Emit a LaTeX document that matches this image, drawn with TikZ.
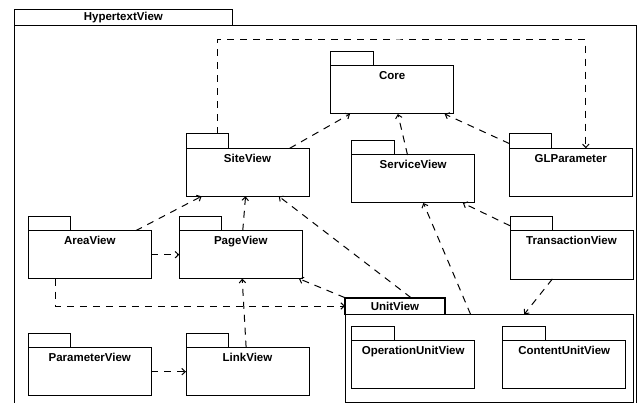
\documentclass[tikz,border=0pt]{standalone}
\usepackage{fontspec}
\setmainfont{Liberation Sans}
\usetikzlibrary{arrows.meta}

\begin{document}
\begin{tikzpicture}[x=1pt, y=-1pt,
		pkg/.style={draw, line width=1pt, anchor=north west, outer sep=0pt, minimum width=123pt, inner xsep=0pt, inner ysep=5.5pt, text height=8.3pt, text depth=28.7pt, font=\fontsize{11.5}{13}\selectfont\bfseries},
		tab/.style={draw, line width=1pt, anchor=south west, outer sep=0pt, inner sep=0pt, minimum width=42.5pt, minimum height=14.5pt, font=\fontsize{11.5}{13}\selectfont\bfseries},
		dep/.style={line width=1pt, dash pattern=on 7pt off 6pt, -{Straight Barb[length=3.5pt,width=6.5pt]}}]
		\useasboundingbox (0,0) rectangle (642,403);
		\draw[line width=1pt] (14.7,410) -- (14.7,25.5) -- (636,25.5) -- (636,410);
		\node[tab, minimum width=217.3pt, minimum height=16.2pt] (hypertab) at (14.7,25.5) {HypertextView};
		\foreach \name/\x/\y/\txt in {core/330.7/66/Core, service/351.7/155/ServiceView, glparam/509.3/148.3/GLParameter, site/186/148.3/SiteView, area/28.3/230.7/AreaView, page/179.3/230.7/PageView, param/28.3/347.7/ParameterView, link/186/347.7/LinkView, trans/510/231/TransactionView, opunit/351.7/340.7/OperationUnitView, contunit/502.7/340.7/ContentUnitView}
		{
			\node[pkg] (\name) at (\x,\y) {\txt};
			\node[tab] (\name tab) at (\name.north west) {};
		}
		\node[pkg, minimum width=288.3pt, text depth=68.7pt] (unit) at (345,314.3) {};
		\node[tab, line width=1.6pt, minimum width=100pt, minimum height=16.6pt] (unittab) at (unit.north west) {UnitView};
		\coordinate (bend) at (400,40);
		\coordinate (sitesrc) at ([xshift=10pt]sitetab.north);
		\coordinate (glpdst) at ([xshift=15pt]glparam.north);
		\draw[dep] (sitesrc) |- (bend) -| (glpdst);
		\draw[dep] (site) -- (core);
		\draw[dep] (service) -- (core);
		\draw[dep] ([yshift=-2.5pt]glparamtab.west) -- (core);
		\draw[dep] (area) -- (site);
		\draw[dep] (page) -- (site);
		\draw[dep] ([xshift=16pt]unittab.north) -- (site);
		\draw[dep] (area) -- (page);
		\draw[dep] ([xshift=-34.7pt]area.south) |- (unittab.west);
		\draw[dep] (unittab.north west) -- (page);
		\draw[dep] (link) -- (page);
		\draw[dep] (param) -- (link);
		\draw[dep] (unit) -- (service);
		\draw[dep] ([yshift=-2pt]transtab.west) -- (service);
		\draw[dep] (trans) -- (unit);
	\end{tikzpicture}
\end{document}
